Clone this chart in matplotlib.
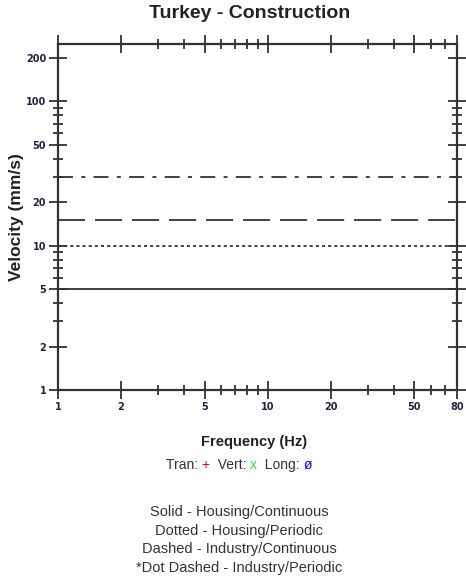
import matplotlib
matplotlib.use("Agg")
import matplotlib.pyplot as plt
from matplotlib.ticker import FixedLocator, NullFormatter

# criterion levels (mm/s) and their line styles
levels = [5, 10, 15, 30]
level_styles = ['-', (0, (1.7, 1.7)), (0, (15, 5.5)), (0, (8.3, 4.6, 2.2, 4.6))]

x_major = [1, 2, 5, 10, 20, 50, 80]
x_minor = [3, 4, 6, 7, 8, 9, 30, 40, 60, 70]
y_major = [1, 2, 5, 10, 20, 50, 100, 200]
y_minor = [3, 4, 6, 7, 8, 9, 30, 40, 60, 70, 80, 90]

notes = ["Solid - Housing/Continuous",
         "Dotted - Housing/Periodic",
         "Dashed - Industry/Continuous",
         "*Dot Dashed - Industry/Periodic"]

legend_parts = [("Tran: ", '#333333'), ("+", 'red'), ("  Vert: ", '#333333'),
                ("x", '#33dd33'), ("  Long: ", '#333333'), ("ø", 'blue')]

line_col = '#333333'
font = 'Liberation Sans'

fig = plt.figure(figsize=(4.66, 5.87), dpi=100)
ax = fig.add_axes([58/466, 1-390/587, (457-58)/466, (390-44)/587])

for lev, ls in zip(levels, level_styles):
    ax.plot([1, 80], [lev, lev], color=line_col, lw=1.3, linestyle=ls)

ax.set_xscale('log')
ax.set_yscale('log')
ax.set_xlim(1, 80)
ax.set_ylim(1, 250)

ax.xaxis.set_major_locator(FixedLocator(x_major))
ax.xaxis.set_minor_locator(FixedLocator(x_minor))
ax.yaxis.set_major_locator(FixedLocator(y_major))
ax.yaxis.set_minor_locator(FixedLocator(y_minor))
ax.set_xticklabels([str(v) for v in x_major])
ax.set_yticklabels([str(v) for v in y_major])
ax.xaxis.set_minor_formatter(NullFormatter())
ax.yaxis.set_minor_formatter(NullFormatter())

ax.tick_params(which='both', direction='inout', top=True, right=True,
               color=line_col, labelsize=7, labelcolor='#222244', pad=2)
ax.tick_params(which='major', length=13, width=1.3)
ax.tick_params(which='minor', length=7, width=1.3)
for lab in ax.get_xticklabels() + ax.get_yticklabels():
    lab.set_fontweight('bold')

for sp in ax.spines.values():
    sp.set_color(line_col)
    sp.set_linewidth(1.6)

fig.text(250/466, 1-13/587, "Turkey - Construction", ha='center', va='center',
         fontsize=14, fontweight='bold', family=font, color='#222222')
fig.text(17/466, 1-217/587, "Velocity (mm/s)", ha='center', va='center', rotation=90,
         fontsize=12.5, fontweight='bold', family=font, color='#222222')
fig.text(254/466, 1-442/587, "Frequency (Hz)", ha='center', va='center',
         fontsize=10.5, fontweight='bold', family=font, color='#222222')

# legend line with coloured symbols, chained left to right
fig.canvas.draw()
r = fig.canvas.get_renderer()
px = 166
for txt, col in legend_parts:
    t = fig.text(px/466, 1-465/587, txt, ha='left', va='center', fontsize=10,
                 family=font, color=col)
    px += t.get_window_extent(renderer=r).width

for i, t in enumerate(notes):
    fig.text(239/466, 1-(512+18.7*i)/587, t, ha='center', va='center', fontsize=10.5,
             family=font, color='#333333')

plt.savefig("out.png", dpi=100)
